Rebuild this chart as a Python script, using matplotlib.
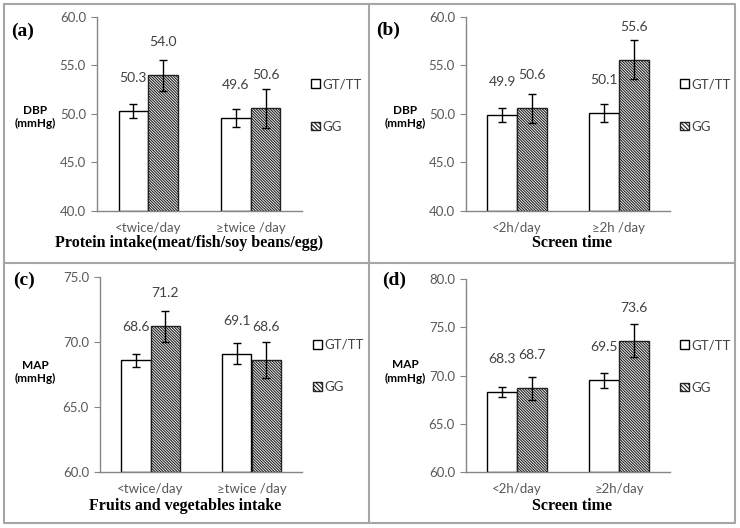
import matplotlib
matplotlib.use("Agg")
import matplotlib.pyplot as plt
from matplotlib.patches import Patch
from matplotlib.lines import Line2D

plt.rcParams['font.family'] = ['Lato', 'DejaVu Sans']
plt.rcParams['hatch.linewidth'] = 0.8

# ---- data ----
series = ['GT/TT', 'GG']

cats_a = ['<twice/day', '≥twice /day']
gt_a = [50.3, 49.6]
gg_a = [54.0, 50.6]
gt_err_a = [0.7, 0.9]
gg_err_a = [1.6, 2.0]

cats_b = ['<2h/day', '≥2h /day']
gt_b = [49.9, 50.1]
gg_b = [50.6, 55.6]
gt_err_b = [0.75, 0.9]
gg_err_b = [1.5, 2.0]

cats_c = ['<twice/day', '≥twice /day']
gt_c = [68.6, 69.1]
gg_c = [71.2, 68.6]
gt_err_c = [0.5, 0.8]
gg_err_c = [1.2, 1.4]

cats_d = ['<2h/day', '≥2h/day']
gt_d = [68.3, 69.5]
gg_d = [68.7, 73.6]
gt_err_d = [0.55, 0.8]
gg_err_d = [1.2, 1.7]

W, H = 740, 528
fig = plt.figure(figsize=(7.4, 5.28), dpi=100)

def fx(px):
    return px / W

def fy(py):
    return 1 - py / H

grey = '#595959'
serif = ['Liberation Serif', 'DejaVu Serif']
HATCH = '\\' * 12


def panel(rect_px, cats, gt, gg, gt_err, gg_err, ylim, ylabel, xlabel, tag, tag_px,
          ylab_px, leg_px, xlab_px):
    x0, y0, x1, y1 = rect_px
    ax = fig.add_axes([fx(x0), fy(y1), fx(x1 - x0), (y1 - y0) / H])
    xs = range(len(cats))
    w = 0.29
    b1 = ax.bar([x - w / 2 for x in xs], [v - ylim[0] for v in gt], w, bottom=ylim[0],
                color='white', edgecolor='black', linewidth=1, zorder=2)
    b2 = ax.bar([x + w / 2 for x in xs], [v - ylim[0] for v in gg], w, bottom=ylim[0],
                color='white', edgecolor='#222222', linewidth=1, hatch=HATCH, zorder=2)
    ax.errorbar([x - w / 2 for x in xs], gt, yerr=gt_err, fmt='none', ecolor='black',
                elinewidth=1, capsize=3, capthick=1, zorder=3)
    ax.errorbar([x + w / 2 for x in xs], gg, yerr=gg_err, fmt='none', ecolor='black',
                elinewidth=1, capsize=3, capthick=1, zorder=3)
    for bars, vals in ((b1, gt), (b2, gg)):
        for bar, v in zip(bars, vals):
            ax.annotate(f'{v:.1f}', (bar.get_x() + bar.get_width() / 2, v),
                        xytext=(0, 33), textcoords='offset pixels',
                        ha='center', va='center', fontsize=10, color='#404040')
    ax.set_xlim(-0.5, len(cats) - 0.5)
    ax.set_ylim(*ylim)
    ticks = list(range(int(ylim[0]), int(ylim[1]) + 1, 5))
    ax.set_yticks(ticks)
    ax.set_yticklabels([f'{t:.1f}' for t in ticks])
    ax.set_xticks(list(xs))
    ax.set_xticklabels(cats)
    ax.tick_params(axis='x', length=0, pad=8, labelsize=9.5, labelcolor=grey)
    ax.tick_params(axis='y', length=4, color='#868686', direction='out', pad=4,
                   labelsize=9.5, labelcolor=grey)
    for s in ('top', 'right'):
        ax.spines[s].set_visible(False)
    for s in ('left', 'bottom'):
        ax.spines[s].set_color('#868686')
        ax.spines[s].set_linewidth(1)
    ax.text((ylab_px[0] - x0) / (x1 - x0), (y1 - ylab_px[1]) / (y1 - y0), ylabel,
            transform=ax.transAxes, ha='center', va='center', fontsize=8.5,
            fontweight='bold', color='black', linespacing=1.25)
    ax.set_xlabel(xlabel, fontsize=11.5, fontweight='bold', family=serif, va='center')
    ax.xaxis.set_label_coords((xlab_px[0] - x0) / (x1 - x0), (y1 - xlab_px[1]) / (y1 - y0))
    fig.text(fx(tag_px[0]), fy(tag_px[1]), tag, fontsize=14, fontweight='bold',
             family=serif, ha='center', va='center')
    handles = [Patch(facecolor='white', edgecolor='black', linewidth=1),
               Patch(facecolor='white', edgecolor='#222222', linewidth=1, hatch='\\' * 8)]
    fig.legend(handles, series, loc='center left', bbox_to_anchor=(fx(leg_px[0]), fy(leg_px[1])),
               frameon=False, fontsize=9.5, labelcolor='#404040', handlelength=0.65,
               handleheight=0.65, handletextpad=0.2, labelspacing=2.3, borderpad=0,
               borderaxespad=0)
    return ax


panel((97, 17, 302, 211), cats_a, gt_a, gg_a, gt_err_a, gg_err_a, (40, 60),
      'DBP\n(mmHg)', 'Protein intake(meat/fish/soy beans/egg)', '(a)', (23, 31),
      (35, 117), (311, 105.5), (189, 243))
panel((466, 17, 670, 211), cats_b, gt_b, gg_b, gt_err_b, gg_err_b, (40, 60),
      'DBP\n(mmHg)', 'Screen time', '(b)', (388, 30), (405, 117), (680, 105.5), (572, 243))
panel((100, 276.7, 302, 472.3), cats_c, gt_c, gg_c, gt_err_c, gg_err_c, (60, 75),
      'MAP\n(mmHg)', 'Fruits and vegetables intake', '(c)', (24, 280), (35, 372),
      (313, 366), (185, 506))
panel((466, 279, 670, 472.3), cats_d, gt_d, gg_d, gt_err_d, gg_err_d, (60, 80),
      'MAP\n(mmHg)', 'Screen time', '(d)', (394, 280), (405, 371.5), (680, 366.5), (572, 506))

# panel frames
fc = '#a6a6a6'
for xs_, ys_ in (([4, 735, 735, 4, 4], [4, 4, 523, 523, 4]),
                 ([369, 369], [4, 523]), ([4, 735], [263, 263])):
    fig.add_artist(Line2D([fx(v) for v in xs_], [fy(v) for v in ys_], color=fc, lw=1.5))

fig.savefig('out.png', dpi=100)
